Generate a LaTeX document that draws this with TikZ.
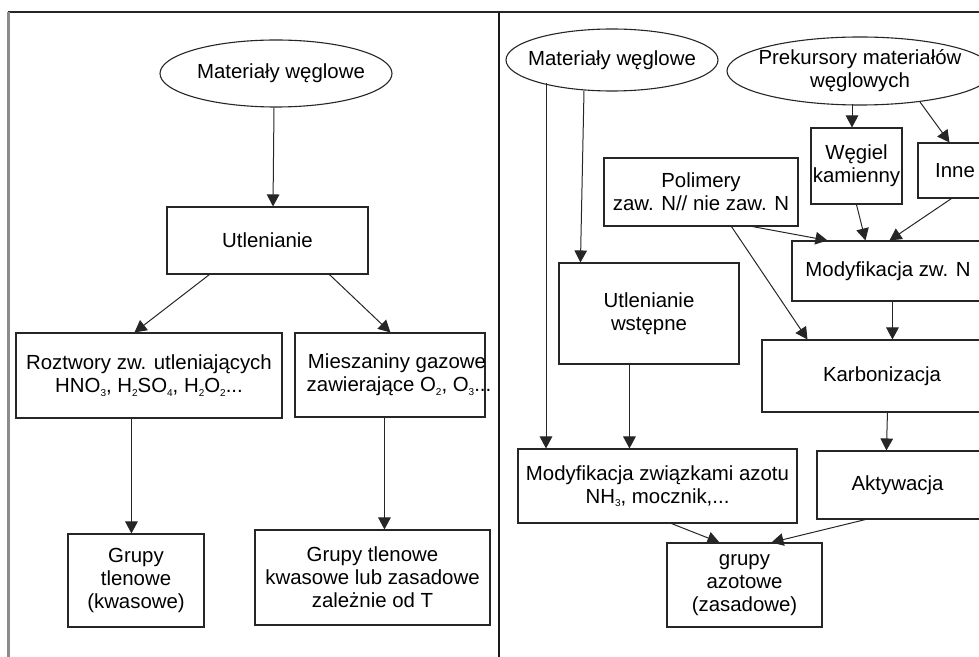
\documentclass[tikz,border=0pt]{standalone}
\usepackage{fontspec}
\setmainfont{Liberation Sans}
\usetikzlibrary{shapes.geometric,arrows.meta,calc}
\tikzset{
  base/.style={draw=black!85, line width=0.55pt, inner sep=0pt, align=center,
    font=\fontsize{10.2}{11.6}\selectfont},
  box/.style={base, rectangle},
  oval/.style={base, ellipse},
  arr/.style={line width=0.5pt, draw=black!85, -{Triangle[length=6pt,width=6.3pt]}},
  frame/.style={line width=0.7pt, draw=black!85},
}
\newcommand{\sbx}[1]{\raisebox{-1.6pt}{\fontsize{5}{5}\selectfont #1}}
\newcommand{\zw}[1]{\makebox[0pt][c]{#1}}
\begin{document}
\begin{tikzpicture}[x=0.5pt,y=-0.5pt]
\useasboundingbox (0,0) rectangle (979,657);
\clip (0,0) rectangle (979,657);
% frame
\draw[frame] (8,12) -- (979,12);
\draw[line width=1.5pt, draw=black!45] (8,12) -- (8,657);
\draw[line width=1.1pt, draw=black!90] (499,12) -- (499,657);

% ---------- left panel ----------
\node[oval, minimum width=116pt, minimum height=33.5pt] (e1) at (276,73.5)
  {\zw{\hspace*{5pt}Materiały węglowe}};
\node[box, minimum width=100.5pt, minimum height=33.5pt] (u1) at (267.5,240.5) {Utlenianie};
\node[box, minimum width=133pt, minimum height=42.5pt] (r1) at (149,375.5)
  {Roztwory zw. utleniających\\HNO\sbx{3}, H\sbx{2}SO\sbx{4}, H\sbx{2}O\sbx{2}...};
\node[box, minimum width=95pt, minimum height=42pt] (m1) at (390,375)
  {\zw{\hspace*{7pt}Mieszaniny gazowe}\\\zw{\hspace*{9pt}zawierające O\sbx{2}, O\sbx{3}...}};
\node[box, minimum width=68pt, minimum height=46.5pt] (g1) at (136,580.5)
  {Grupy\\tlenowe\\(kwasowe)};
\node[box, minimum width=117.5pt, minimum height=47.5pt] (g2) at (372.5,577.5)
  {Grupy tlenowe\\kwasowe lub zasadowe\\zależnie od T};

\draw[arr] ($(e1.south)+(-2,0)$) -- ($(u1.north)+(5.5,0)$);
\draw[arr] ($(u1.south west)+(43,0)$) -- ($(r1.north west)+(119,0)$);
\draw[arr] ($(u1.south west)+(163,0)$) -- ($(m1.north west)+(96,0)$);
\draw[arr] ($(r1.south west)+(116,0)$) -- ($(g1.north west)+(64,0)$);
\draw[arr] ($(m1.south west)+(90,0)$) -- ($(g2.north west)+(130,0)$);

% ---------- right panel ----------
\node[oval, minimum width=106pt, minimum height=31pt] (e2) at (612,60)
  {\zw{Materiały węglowe}};
\node[oval, minimum width=133pt, minimum height=34pt] (e3) at (860,71)
  {\zw{Prekursory materiałów}\\\zw{węglowych}};
\node[box, minimum width=97pt, minimum height=34pt] (p) at (701,192)
  {Polimery\\zaw. N// nie zaw. N};
\node[box, minimum width=45.5pt, minimum height=38pt] (wk) at (856.5,166)
  {\zw{Węgiel}\\\zw{kamienny}};
\node[box, minimum width=37pt, minimum height=27.5pt] (inne) at (955,170.5) {Inne};
\node[box, minimum width=96pt, minimum height=30pt] (mn) at (888,271) {Modyfikacja zw. N};
\node[box, minimum width=90pt, minimum height=50.5pt] (uw) at (649,313.5)
  {Utlenianie\\wstępne};
\node[box, minimum width=120pt, minimum height=36pt] (k) at (882,376)
  {Karbonizacja};
\node[box, minimum width=139.5pt, minimum height=37pt] (mza) at (657.5,486)
  {Modyfikacja związkami azotu\\NH\sbx{3}, mocznik,...};
\node[box, minimum width=91.5pt, minimum height=34pt] (akt) at (908.5,485)
  {Aktywacja\hspace*{11pt}};
\node[box, minimum width=77.5pt, minimum height=42pt] (ga) at (744.5,585)
  {grupy\\azotowe\\(zasadowe)};

\coordinate (s) at ($(e2.center)+(-66,23)$);
\draw[arr] (s) -- (s |- mza.north);
\draw[arr] ($(e2.south)+(-28,-1)$) -- ($(uw.north west)+(22,0)$);
\draw[arr] ($(uw.south west)+(71,0)$) -- ($(mza.north west)+(112,0)$);
\draw[arr] ($(e3.south)+(-8,-2)$) -- ($(wk.north)+(-4.5,0)$);
\draw[arr] ($(e3.center)+(60,31)$) -- ($(inne.north west)+(32,0)$);
\draw[arr] ($(p.south west)+(149,0)$) -- ($(mn.north west)+(36,0)$);
\draw[arr] ($(wk.south west)+(46,0)$) -- ($(mn.north west)+(74,0)$);
\draw[arr] ($(inne.south west)+(34,0)$) -- ($(mn.north west)+(98,0)$);
\draw[arr] ($(p.south west)+(128,0)$) -- ($(k.north west)+(46,0)$);
\draw[arr] ($(mn.south west)+(101,0)$) -- ($(k.north west)+(131,0)$);
\draw[arr] ($(k.south west)+(126,0)$) -- ($(akt.north west)+(70,0)$);
\draw[arr] ($(mza.south west)+(154,0)$) -- ($(ga.north west)+(53,0)$);
\draw[arr] ($(akt.south west)+(49,0)$) -- ($(ga.north west)+(105,0)$);
\end{tikzpicture}
\end{document}
